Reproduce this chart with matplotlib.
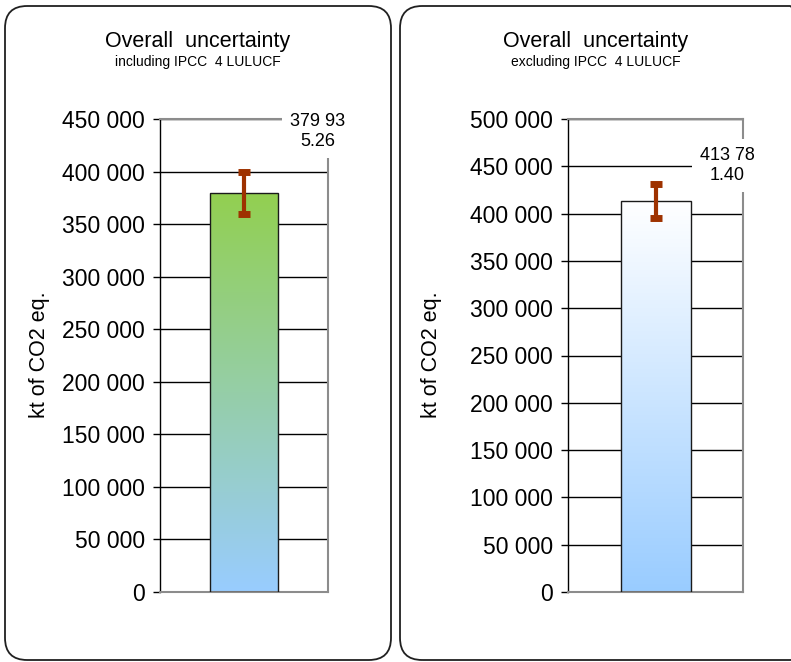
import numpy as np
import matplotlib
matplotlib.use("Agg")
import matplotlib.pyplot as plt
from matplotlib.patches import FancyBboxPatch
from matplotlib.colors import LinearSegmentedColormap

plt.rcParams['font.family'] = ['Liberation Sans', 'DejaVu Sans']

titles = ["Overall  uncertainty", "Overall  uncertainty"]
subtitles = ["including IPCC  4 LULUCF", "excluding IPCC  4 LULUCF"]
totals = [379935.26, 413781.40]
errors = [20000, 18000]
value_labels = ["379 93\n5.26", "413 78\n1.40"]
y_max = [450000, 500000]
y_step = 50000
y_label = "kt of CO2 eq."
gradients = [["#99CCFF", "#92D050"], ["#99CCFF", "#FFFFFF"]]

W, H = 791, 662
fig = plt.figure(figsize=(W / 100, H / 100), dpi=100)


def px_axes(x0, x1, y_top, y_bot):
    return [x0 / W, 1 - y_bot / H, (x1 - x0) / W, (y_bot - y_top) / H]


def tick_fmt(v):
    return "{:,}".format(int(v)).replace(",", " ")


def draw_panel(i, box, ax_box, title_x, ylabel_x, label_pos):
    x0, x1 = box
    patch = FancyBboxPatch((x0 / W, 2 / H), (x1 - x0) / W, 654 / H,
                           boxstyle="round,pad=0,rounding_size=0.028",
                           transform=fig.transFigure, facecolor="none",
                           edgecolor="#202020", linewidth=1.3, zorder=-1,
                           mutation_aspect=W / H)
    fig.patches.append(patch)
    fig.text(title_x / W, 1 - 42 / H, titles[i], ha="center", va="center", fontsize=15.5)
    fig.text(title_x / W, 1 - 62 / H, subtitles[i], ha="center", va="center", fontsize=10)

    ax = fig.add_axes(px_axes(*ax_box))
    ax.patch.set_alpha(0)
    ticks = np.arange(0, y_max[i] + 1, y_step)
    ax.set_yticks(ticks)
    ax.set_yticklabels([tick_fmt(t) for t in ticks], fontsize=16.5)
    ax.set_xticks([])
    ax.tick_params(axis="y", length=5, width=1, color="black", pad=6)
    ax.set_axisbelow(True)
    ax.yaxis.grid(True, color="black", linewidth=1)
    for side in ["top", "right", "bottom"]:
        ax.spines[side].set_color("#8c8c8c")
        ax.spines[side].set_linewidth(1.5)
    ax.spines["left"].set_color("black")
    ax.spines["left"].set_linewidth(1)

    bars = ax.bar([0], [totals[i]], width=0.8, color="none", edgecolor="#1a1a1a",
                  linewidth=1, zorder=3)
    rect = bars[0]
    cmap = LinearSegmentedColormap.from_list("g%d" % i, gradients[i])
    grad = np.linspace(0, 1, 256).reshape(-1, 1)
    img = ax.imshow(grad, cmap=cmap, origin="lower", aspect="auto",
                    extent=(-0.4, 0.4, 0, totals[i]), zorder=2)
    img.set_clip_path(rect)
    ax.set_xlim(-1, 1)
    ax.set_ylim(0, y_max[i])

    ax.errorbar([0], [totals[i]], yerr=[errors[i]], fmt="none", ecolor="#9E3200",
                elinewidth=3, capsize=4, capthick=5, zorder=4)

    ax.text(label_pos[0], label_pos[1], value_labels[i], ha="center", va="center",
            fontsize=13, linespacing=1.2, zorder=5, clip_on=False,
            bbox=dict(facecolor="white", edgecolor="none", pad=6))

    fig.text(ylabel_x / W, 1 - 355 / H, y_label, rotation=90, ha="center",
             va="center", fontsize=15.5)
    return ax


draw_panel(0, (5, 391), (160, 328, 119, 592), 198, 40, (0.88, 438000))
draw_panel(1, (400, 812), (568, 743, 119, 592), 596, 432, (0.82, 451000))

fig.savefig("out.png", dpi=100)
